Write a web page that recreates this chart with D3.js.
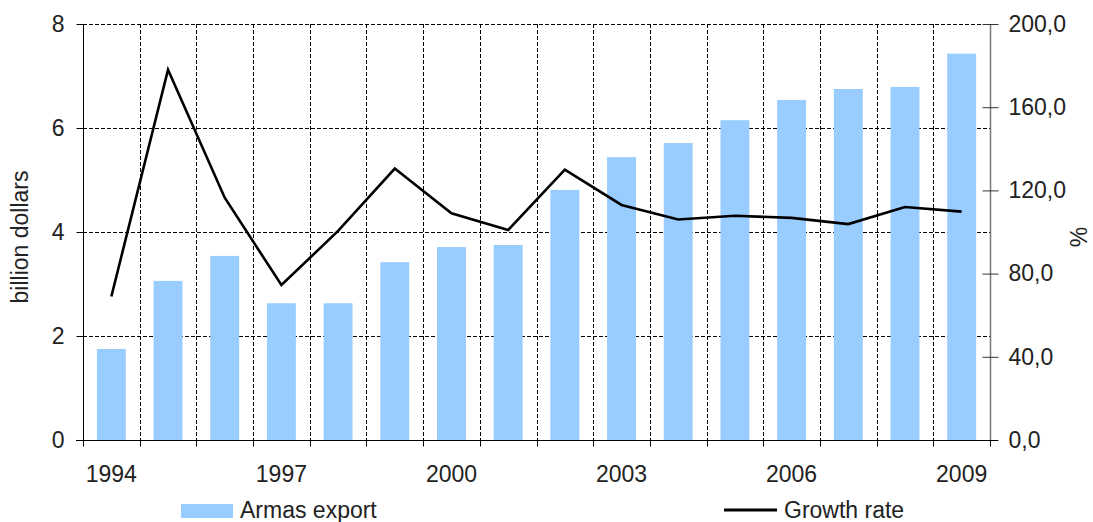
<!DOCTYPE html>
<html>
<head>
<meta charset="utf-8">
<script src="https://cdn.jsdelivr.net/npm/d3@7"></script>
<style>
  html, body { margin: 0; padding: 0; background: #fff; }
  svg { display: block; font-family: "Liberation Sans", Arial, sans-serif; }
</style>
</head>
<body>
<svg id="chart" width="1093" height="522"></svg>
<script>
const years = [1994,1995,1996,1997,1998,1999,2000,2001,2002,2003,2004,2005,2006,2007,2008,2009];
const exportValues = [1.75,3.06,3.54,2.63,2.63,3.42,3.71,3.75,4.81,5.44,5.71,6.15,6.54,6.75,6.79,7.43];
const growthRate = [69,178,116.5,74.5,100.5,130.5,109,101,130,113,106,107.8,106.8,103.8,112,109.8];
const leftTicks = [0,2,4,6,8];
const rightTicks = [0,40,80,120,160,200];
const xLabelYears = [1994,1997,2000,2003,2006,2009];
const seriesNames = ["Armas export","Growth rate"];

const svg = d3.select("#chart");
const L = 83, R = 990, T = 24, B = 440;
const textColor = "#222";
const fs = 23;
const ff = "Liberation Sans, Arial, sans-serif";

const x = d3.scaleBand().domain(years).range([L, R]).padding(0);
const yL = d3.scaleLinear().domain([0, 8]).range([B, T]);
const yR = d3.scaleLinear().domain([0, 200]).range([B, T]);

// gridlines
const grid = svg.append("g").attr("stroke", "#000").attr("stroke-width", 1).attr("stroke-dasharray", "4,2");
years.slice(1).forEach(yr => {
  const gx = Math.round(x(yr)) + 0.5;
  grid.append("line").attr("x1", gx).attr("x2", gx).attr("y1", T).attr("y2", B);
});
leftTicks.filter(v => v > 0).forEach(v => {
  const gy = Math.round(yL(v)) + 0.5;
  grid.append("line").attr("x1", L).attr("x2", R).attr("y1", gy).attr("y2", gy);
});

// bars
const bw = x.bandwidth() * 0.51;
svg.append("g").selectAll("rect").data(years).join("rect")
  .attr("x", (d, i) => x(d) + (x.bandwidth() - bw) / 2)
  .attr("width", bw)
  .attr("y", (d, i) => yL(exportValues[i]))
  .attr("height", (d, i) => B - yL(exportValues[i]))
  .attr("fill", "#99CCFF");

// line
const line = d3.line()
  .x((d, i) => x(years[i]) + x.bandwidth() / 2)
  .y(d => yR(d));
svg.append("path").datum(growthRate)
  .attr("d", line)
  .attr("fill", "none")
  .attr("stroke", "#000")
  .attr("stroke-width", 2.6)
  .attr("stroke-linejoin", "miter");

// left axis
const gL = svg.append("g").attr("transform", `translate(${L + 0.5},0)`)
  .call(d3.axisLeft(yL).tickValues(leftTicks).tickSize(7).tickPadding(12).tickFormat(d3.format("d")));
gL.select(".domain").attr("d", `M0,${T}V${B}`).attr("stroke", "#000");
gL.selectAll("text").attr("font-size", fs).attr("fill", textColor).attr("font-family", ff);

// right axis
const gR = svg.append("g").attr("transform", `translate(${R + 0.5},0)`)
  .call(d3.axisRight(yR).tickValues(rightTicks).tickSize(8).tickPadding(10)
    .tickFormat(d => d3.format(".1f")(d).replace(".", ",")));
gR.select(".domain").attr("d", `M0,${T}V${B}`).attr("stroke", "#777").attr("stroke-width", 1.5);
gR.selectAll(".tick line").attr("x1", -8).attr("stroke", "#333");
gR.selectAll("text").attr("font-size", fs).attr("fill", textColor).attr("font-family", ff);

// bottom axis
const gB = svg.append("g").attr("transform", `translate(0,${B + 0.5})`);
gB.append("line").attr("x1", L - 7).attr("x2", R + 8).attr("y1", 0).attr("y2", 0).attr("stroke", "#000");
years.concat([null]).forEach((yr, i) => {
  const tx = Math.round(yr === null ? R : x(yr)) + 0.5;
  gB.append("line").attr("x1", tx).attr("x2", tx).attr("y1", 0).attr("y2", 6).attr("stroke", "#000");
});
gB.selectAll("text.xl").data(xLabelYears).join("text")
  .attr("class", "xl")
  .attr("x", d => x(d) + x.bandwidth() / 2)
  .attr("y", 41)
  .attr("text-anchor", "middle")
  .attr("font-size", fs)
  .attr("fill", textColor)
  .text(d => d);

// axis titles
svg.append("text")
  .attr("transform", `translate(28,237) rotate(-90)`)
  .attr("text-anchor", "middle")
  .attr("font-size", fs)
  .attr("fill", textColor)
  .text("billion dollars");
svg.append("text")
  .attr("transform", `translate(1087,237) rotate(-90)`)
  .attr("text-anchor", "middle")
  .attr("font-size", fs)
  .attr("fill", textColor)
  .text("%");

// legend
const lg = svg.append("g");
lg.append("rect").attr("x", 181).attr("y", 504).attr("width", 52).attr("height", 14).attr("fill", "#99CCFF");
lg.append("text").attr("x", 240).attr("y", 518).attr("font-size", fs).attr("fill", textColor).text(seriesNames[0]);
lg.append("line").attr("x1", 724).attr("x2", 777).attr("y1", 510).attr("y2", 510).attr("stroke", "#000").attr("stroke-width", 3);
lg.append("text").attr("x", 784).attr("y", 518).attr("font-size", fs).attr("fill", textColor).text(seriesNames[1]);
</script>
</body>
</html>
